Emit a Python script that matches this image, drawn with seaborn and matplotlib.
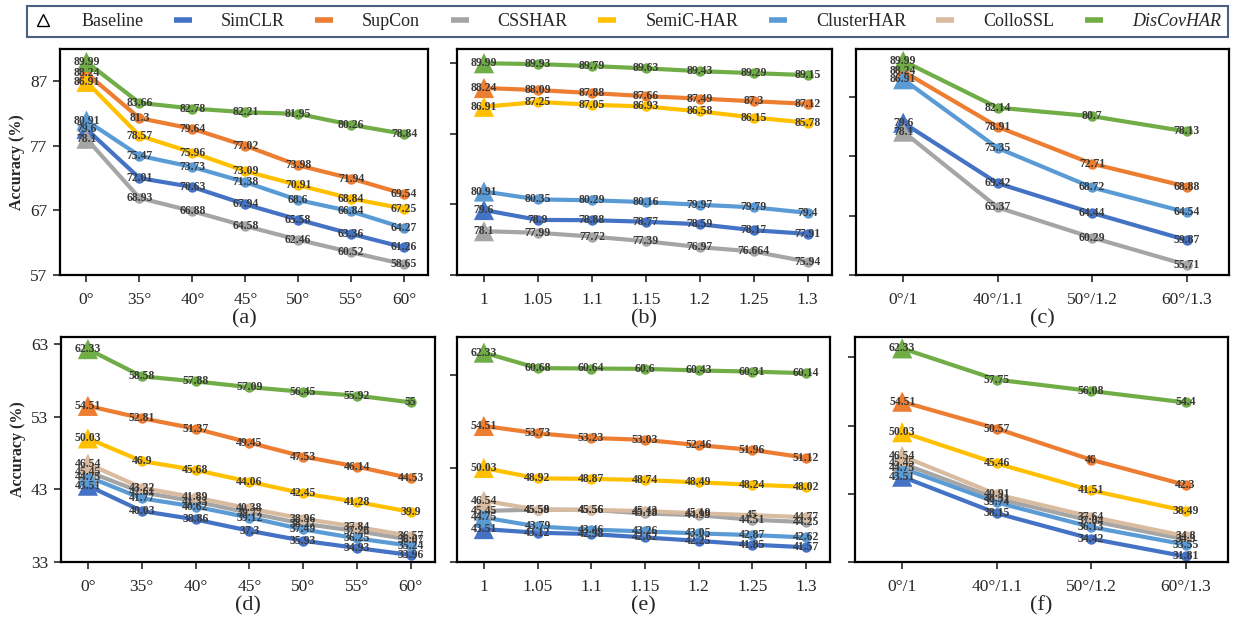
import matplotlib
matplotlib.use('Agg')
import pandas as pd
import matplotlib.pyplot as plt
import seaborn as sns
from matplotlib.lines import Line2D

methods = ['SimCLR', 'SupCon', 'CSSHAR', 'SemiC-HAR', 'ClusterHAR', 'ColloSSL', 'DisCovHAR']
colors = ['#4472C4', '#ED7D31', '#A5A5A5', '#FFC000', '#5B9BD5', '#D9BBA0', '#70AD47']

angles = ['0°', '35°', '40°', '45°', '50°', '55°', '60°']
scales = ['1', '1.05', '1.1', '1.15', '1.2', '1.25', '1.3']
combos = ['0°/1', '40°/1.1', '50°/1.2', '60°/1.3']

# (a) rotation, top dataset
a_vals = {
    'SimCLR': [79.6, 72.01, 70.63, 67.94, 65.58, 63.36, 61.26],
    'SupCon': [88.24, 81.3, 79.64, 77.02, 73.98, 71.94, 69.54],
    'CSSHAR': [78.1, 68.93, 66.88, 64.58, 62.46, 60.52, 58.65],
    'SemiC-HAR': [86.91, 78.57, 75.96, 73.09, 70.91, 68.84, 67.25],
    'ClusterHAR': [80.91, 75.47, 73.73, 71.38, 68.6, 66.84, 64.27],
    'DisCovHAR': [89.99, 83.66, 82.78, 82.21, 81.95, 80.26, 78.84],
}
# (b) scaling, top dataset
b_vals = {
    'SimCLR': [79.6, 78.9, 78.88, 78.77, 78.59, 78.17, 77.91],
    'SupCon': [88.24, 88.09, 87.88, 87.66, 87.49, 87.3, 87.12],
    'CSSHAR': [78.1, 77.99, 77.72, 77.39, 76.97, 76.664, 75.94],
    'SemiC-HAR': [86.91, 87.25, 87.05, 86.93, 86.58, 86.15, 85.78],
    'ClusterHAR': [80.91, 80.35, 80.29, 80.16, 79.97, 79.79, 79.4],
    'DisCovHAR': [89.99, 89.93, 89.79, 89.63, 89.43, 89.29, 89.15],
}
# (c) combined, top dataset
c_vals = {
    'SimCLR': [79.6, 69.42, 64.44, 59.87],
    'SupCon': [88.24, 78.91, 72.71, 68.88],
    'CSSHAR': [78.1, 65.37, 60.29, 55.71],
    'ClusterHAR': [86.91, 75.35, 68.72, 64.54],
    'DisCovHAR': [89.99, 82.14, 80.7, 78.13],
}
# (d) rotation, bottom dataset
d_vals = {
    'SimCLR': [43.51, 40.03, 38.86, 37.3, 35.93, 34.93, 33.96],
    'SupCon': [54.51, 52.81, 51.37, 49.45, 47.53, 46.14, 44.53],
    'CSSHAR': [45.45, 42.61, 41.33, 39.77, 38.27, 37.26, 36.07],
    'SemiC-HAR': [50.03, 46.9, 45.68, 44.06, 42.45, 41.28, 39.9],
    'ClusterHAR': [44.75, 41.77, 40.62, 39.12, 37.49, 36.25, 35.24],
    'ColloSSL': [46.54, 43.22, 41.89, 40.38, 38.96, 37.84, 36.57],
    'DisCovHAR': [62.33, 58.58, 57.88, 57.09, 56.45, 55.92, 55],
}
# (e) scaling, bottom dataset
e_vals = {
    'SimCLR': [43.51, 43.12, 42.98, 42.62, 42.25, 41.85, 41.57],
    'SupCon': [54.51, 53.73, 53.23, 53.03, 52.46, 51.96, 51.12],
    'CSSHAR': [45.45, 45.59, 45.56, 45.18, 44.99, 44.51, 44.25],
    'SemiC-HAR': [50.03, 48.92, 48.87, 48.74, 48.49, 48.24, 48.02],
    'ClusterHAR': [44.75, 43.79, 43.46, 43.26, 43.05, 42.87, 42.62],
    'ColloSSL': [46.54, 45.58, 45.56, 45.43, 45.19, 45, 44.77],
    'DisCovHAR': [62.33, 60.68, 60.64, 60.6, 60.43, 60.31, 60.14],
}
# (f) combined, bottom dataset
f_vals = {
    'SimCLR': [43.51, 38.15, 34.42, 31.81],
    'SupCon': [54.51, 50.57, 46, 42.3],
    'CSSHAR': [45.45, 40.31, 37.04, 34.3],
    'SemiC-HAR': [50.03, 45.46, 41.51, 38.49],
    'ClusterHAR': [44.75, 39.74, 36.13, 33.55],
    'ColloSSL': [46.54, 40.91, 37.64, 34.8],
    'DisCovHAR': [62.33, 57.75, 56.08, 54.4],
}

sns.set_style('ticks')
plt.rcParams['font.family'] = ['Liberation Serif', 'DejaVu Serif']
plt.rcParams['axes.linewidth'] = 1.6
plt.rcParams['xtick.major.width'] = 1.2
plt.rcParams['ytick.major.width'] = 1.2

W, H = 1236, 633
fig = plt.figure(figsize=(W / 100, H / 100), dpi=100)
palette = dict(zip(methods, colors))


def px_axes(x0, y0, x1, y1):
    return fig.add_axes([x0 / W, 1 - y1 / H, (x1 - x0) / W, (y1 - y0) / H])


panels = [
    ('(a)', a_vals, angles, (60, 49, 428, 275), (57, 92), [57, 67, 77, 87], True),
    ('(b)', b_vals, scales, (457, 49, 832, 275), (75, 91), [75, 80, 85, 90], False),
    ('(c)', c_vals, combos, (856, 49, 1229, 275), (54, 92), [54, 64, 74, 84], False),
    ('(d)', d_vals, angles, (61, 337, 435, 562), (33, 64), [33, 43, 53, 63], True),
    ('(e)', e_vals, scales, (457, 337, 830, 562), (40, 64), [40, 50, 60], False),
    ('(f)', f_vals, combos, (855, 337, 1228, 562), (31, 64), [31, 41, 51, 61], False),
]

for tag, vals, xlabels, box, ylim, yticks, show_y in panels:
    ax = px_axes(*box)
    rows = []
    for m, ys in vals.items():
        for i, v in enumerate(ys):
            rows.append({'method': m, 'x': i, 'acc': v})
    df = pd.DataFrame(rows)
    order = [m for m in methods if m in vals]
    sns.lineplot(data=df, x='x', y='acc', hue='method', hue_order=order,
                 palette=palette, lw=3, marker='o', markersize=7.5,
                 markeredgewidth=0, legend=False, ax=ax)
    first = df[df['x'] == 0]
    sns.scatterplot(data=first, x='x', y='acc', hue='method', hue_order=order,
                    palette=palette, marker='^', s=210, linewidth=0,
                    legend=False, ax=ax, zorder=4)
    for _, r in df.iterrows():
        ax.text(r['x'], r['acc'], f"{r['acc']:g}", ha='center', va='center',
                fontsize=8.5, fontweight='bold', color='#3a3a3a', zorder=5)

    n = len(xlabels)
    ax.set_xlim(-0.5, n - 0.55)
    ax.set_xticks(range(n))
    ax.set_xticklabels(xlabels, fontsize=12.5)
    ax.set_ylim(*ylim)
    ax.set_yticks(yticks)
    if show_y:
        ax.set_yticklabels([str(t) for t in yticks], fontsize=12.5)
        ax.set_ylabel('Accuracy (%)', fontsize=11.5, fontweight='bold', labelpad=4)
    else:
        ax.set_yticklabels([])
        ax.set_ylabel('')
    ax.set_xlabel('')
    ax.tick_params(axis='x', direction='out', length=5, pad=7)
    ax.tick_params(axis='y', direction='out', length=5, pad=4)
    for s in ax.spines.values():
        s.set_visible(True)
        s.set_color('black')
    cx = (box[0] + box[2]) / 2
    fig.text(cx / W, 1 - (box[3] + 44) / H, tag, ha='center', va='center', fontsize=16)

handles = [Line2D([], [], ls='none', marker='^', markersize=9,
                  markerfacecolor='white', markeredgecolor='black', markeredgewidth=1)]
handles += [Line2D([], [], color=c, lw=4, solid_capstyle='butt') for c in colors]
labels = ['Baseline'] + methods
leg = fig.legend(handles, labels, loc='center', ncol=8, mode='expand',
                 bbox_to_anchor=(27 / W, 1 - 37 / H, 1201 / W, 31 / H),
                 fontsize=13, frameon=True, fancybox=False, handlelength=1.0,
                 handletextpad=1.6, borderaxespad=0)
leg.get_frame().set_edgecolor('#1F3864')
leg.get_frame().set_linewidth(1.5)
leg.get_texts()[-1].set_fontstyle('italic')

fig.savefig('out.png', dpi=100)
